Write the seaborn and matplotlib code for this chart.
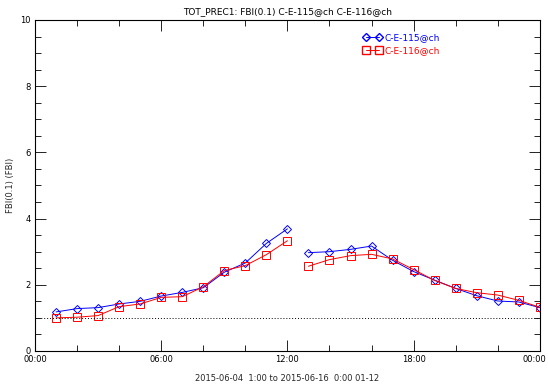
import numpy as np
import pandas as pd
import matplotlib
matplotlib.use("Agg")
import matplotlib.pyplot as plt
import matplotlib.transforms as mtrans
from matplotlib.lines import Line2D
import seaborn as sns

# hours after 00:00 (lead time), two runs, break between 12 and 13
hours = list(range(1, 25))
fbi_115 = [1.18, 1.28, 1.31, 1.42, 1.50, 1.66, 1.77, 1.91, 2.38, 2.66, 3.25, 3.69,
           2.97, 3.00, 3.07, 3.17, 2.74, 2.40, 2.14, 1.89, 1.67, 1.51, 1.48, 1.31]
fbi_116 = [1.00, 1.02, 1.07, 1.34, 1.42, 1.62, 1.64, 1.94, 2.43, 2.58, 2.91, 3.33,
           2.56, 2.76, 2.88, 2.92, 2.78, 2.46, 2.13, 1.89, 1.76, 1.69, 1.53, 1.32]
segment = [0] * 12 + [1] * 12
names = ["C-E-115@ch", "C-E-116@ch"]
xtick_pos = [0, 6, 12, 18, 24]
xtick_lab = ["00:00", "06:00", "12:00", "18:00", "00:00"]

df = pd.concat([
    pd.DataFrame({"hour": hours, "fbi": fbi_115, "seg": segment, "model": names[0]}),
    pd.DataFrame({"hour": hours, "fbi": fbi_116, "seg": segment, "model": names[1]}),
])

sns.set_style("ticks", {"axes.edgecolor": "black", "xtick.color": "black",
                        "ytick.color": "black", "text.color": "black"})
plt.rcParams["font.family"] = ["DejaVu Sans"]
plt.rcParams["font.size"] = 6

fig = plt.figure(figsize=(5.48, 3.84), dpi=100)
ax = fig.add_axes([0.064, 0.086, 0.921, 0.862])

cols = {names[0]: "#0000ff", names[1]: "#ff0000"}
mk = {names[0]: ("D", 3.6), names[1]: ("s", 5.4)}
for name in names:
    for seg in [0, 1]:
        sub = df[(df.model == name) & (df.seg == seg)]
        sns.lineplot(data=sub, x="hour", y="fbi", color=cols[name], lw=0.7,
                     marker=mk[name][0], markersize=mk[name][1], markerfacecolor="none",
                     markeredgecolor=cols[name], markeredgewidth=0.7,
                     estimator=None, ax=ax)

ax.axhline(1, color="black", ls=(0, (1, 2)), lw=0.7)

ax.set_xlim(0, 24)
ax.set_ylim(0, 10)
ax.set_xticks(xtick_pos)
ax.set_xticklabels(xtick_lab)
ax.set_xticks(np.arange(0, 25, 2), minor=True)
ax.set_yticks(np.arange(0, 11, 2))
ax.set_yticks(np.arange(0, 10.5, 0.5), minor=True)
ax.tick_params(which="both", direction="in", top=True, right=True, width=0.6,
               labelsize=6, pad=3, colors="black")
ax.tick_params(which="major", length=8)
ax.tick_params(which="minor", length=4)
for s in ax.spines.values():
    s.set_linewidth(0.8)
    s.set_color("black")

# keep the last "00:00" inside the figure
last = ax.get_xticklabels()[-1]
last.set_transform(last.get_transform() + mtrans.ScaledTranslation(-0.05, 0, fig.dpi_scale_trans))

ax.set_xlabel("2015-06-04  1:00 to 2015-06-16  0:00 01-12", fontsize=6, labelpad=7)
ax.set_ylabel("FBI(0.1) (FBI)", fontsize=6)
ax.set_title("TOT_PREC1: FBI(0.1) C-E-115@ch C-E-116@ch", fontsize=6.5, pad=4)

handles = [Line2D([], [], color="#0000ff", marker="D", mfc="none", ms=3.6, lw=0.7),
           Line2D([], [], color="#ff0000", marker="s", mfc="none", ms=5.4, lw=0.7)]
leg = ax.legend(handles, names, loc="upper left", bbox_to_anchor=(0.635, 0.985),
                frameon=False, fontsize=6.5, handlelength=2.0, handletextpad=0.3,
                labelspacing=0.5, labelcolor="linecolor", numpoints=2)

fig.savefig("out.png", dpi=100)
